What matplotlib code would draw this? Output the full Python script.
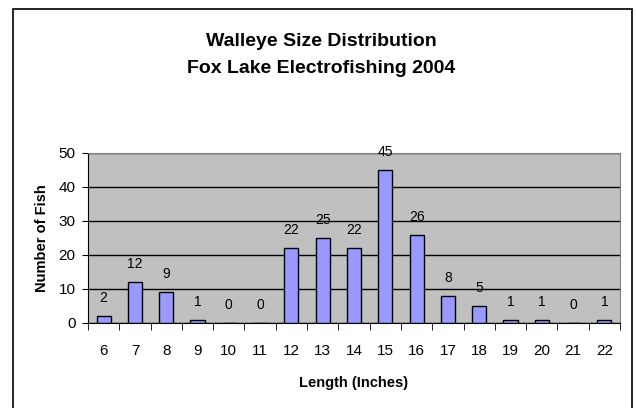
import matplotlib
matplotlib.use("Agg")
from matplotlib import pyplot as plt
from matplotlib.patches import Rectangle

lengths = ['6', '7', '8', '9', '10', '11', '12', '13', '14', '15', '16', '17', '18', '19', '20', '21', '22']
counts = [2, 12, 9, 1, 0, 0, 22, 25, 22, 45, 26, 8, 5, 1, 1, 0, 1]
yticks = [0, 10, 20, 30, 40, 50]

plt.rcParams['font.family'] = ['Liberation Sans', 'DejaVu Sans']

fig = plt.figure(figsize=(6.36, 4.08), dpi=100)
# outer frame of the chart object
fig.patches.append(Rectangle((13 / 636, -0.05), (632 - 13) / 636, (408 - 9) / 408 + 0.05,
                             transform=fig.transFigure, fill=False, edgecolor='black', linewidth=1.2))

ax = fig.add_axes([88 / 636, (408 - 323) / 408, (620 - 88) / 636, (323 - 153) / 408])
ax.set_facecolor('#C0C0C0')
x = list(range(len(lengths)))
ax.bar(x, counts, width=0.45, color='#9999FF', edgecolor='black', linewidth=1, zorder=3)
for xi, c in zip(x, counts):
    ax.annotate(str(c), (xi, c), xytext=(0, 13), textcoords='offset points',
                ha='center', va='center', fontsize=10, zorder=4, annotation_clip=False)

ax.set_xlim(-0.5, len(lengths) - 0.5)
ax.set_ylim(0, 50)
ax.set_yticks(yticks)
ax.set_yticklabels([str(t) for t in yticks], fontsize=11)
ax.yaxis.grid(True, color='black', linewidth=1, zorder=1)
ax.set_axisbelow(True)

ax.set_xticks(x)
ax.set_xticklabels(lengths, fontsize=11)
ax.tick_params(axis='x', length=0, pad=15)
ax.set_xticks([i - 0.5 for i in range(len(lengths) + 1)], minor=True)
ax.tick_params(axis='x', which='minor', length=5, direction='out', color='black')
ax.tick_params(axis='y', length=4, direction='out', pad=5)

for s in ['top', 'right']:
    ax.spines[s].set_color('#808080')
ax.spines['left'].set_color('black')
ax.spines['bottom'].set_color('black')

ax.set_xlabel('Length (Inches)', fontsize=10.5, fontweight='bold', labelpad=13)
ax.set_ylabel('Number of Fish', fontsize=10.5, fontweight='bold', labelpad=7)

fig.text(0.505, 0.865, 'Walleye Size Distribution\nFox Lake Electrofishing 2004', ha='center', va='center',
         fontsize=14, fontweight='bold', linespacing=1.75)

fig.savefig('out.png', dpi=100)
